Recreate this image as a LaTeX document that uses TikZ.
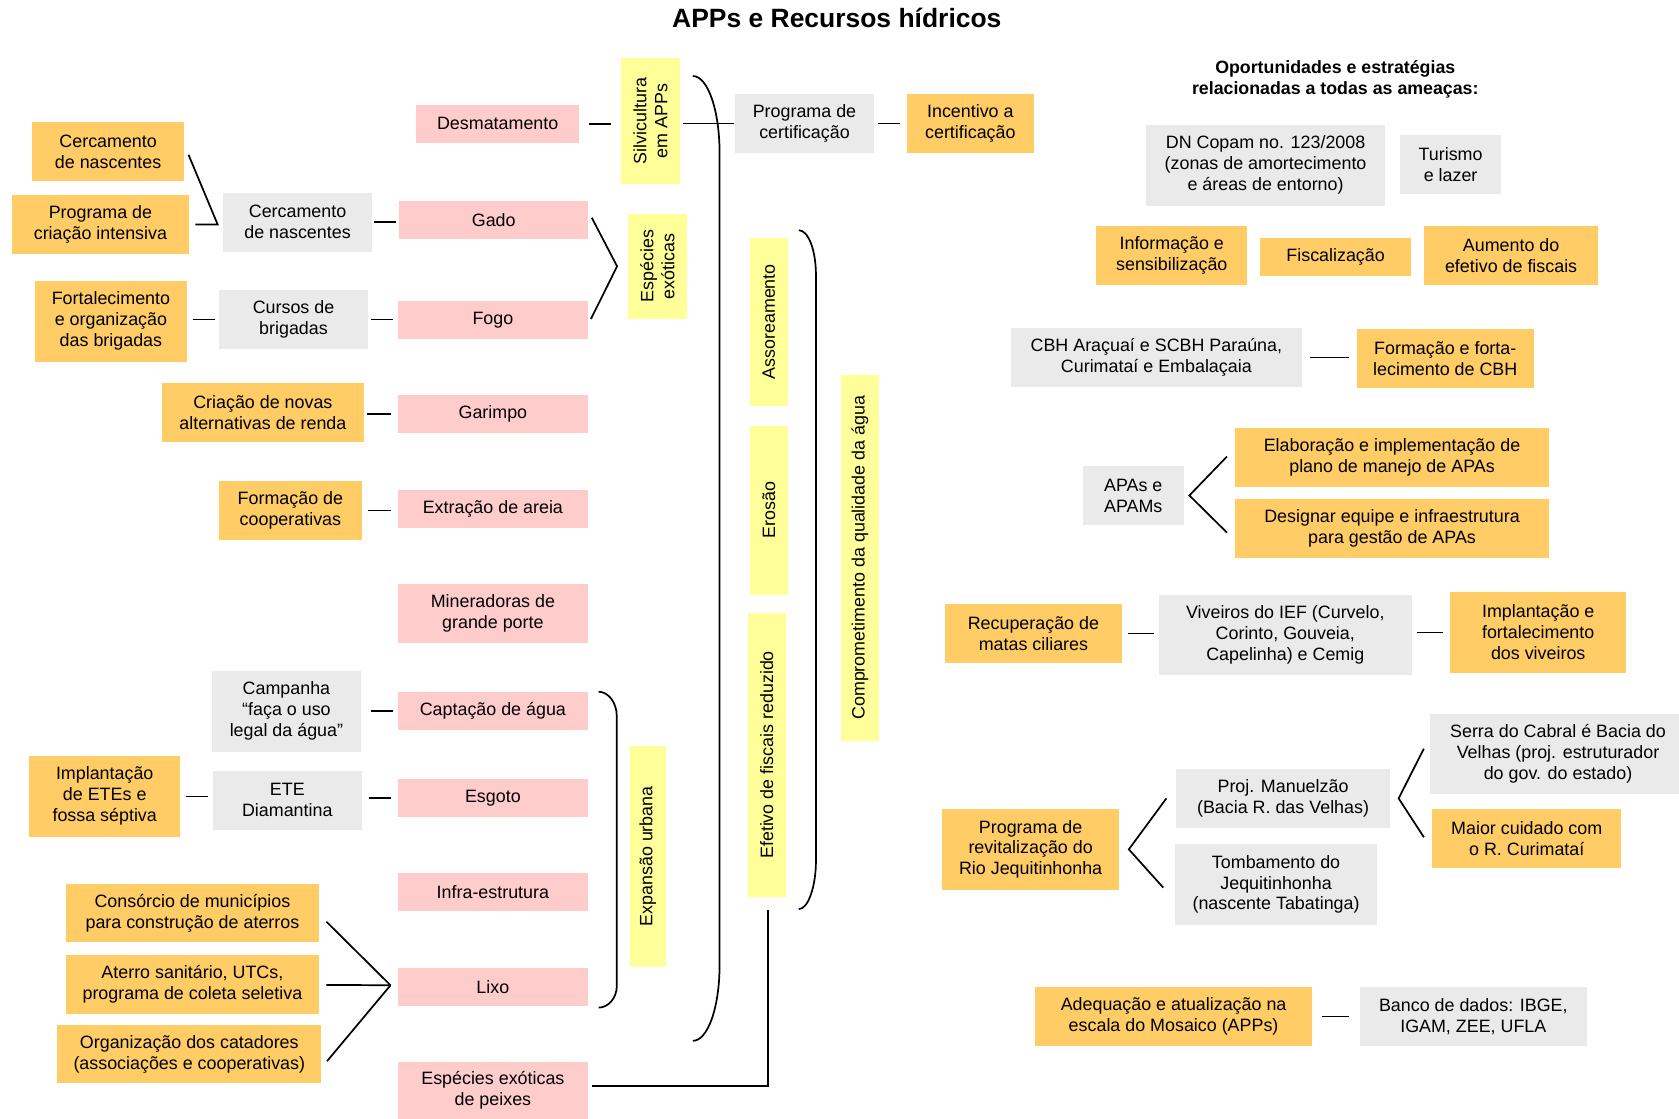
\documentclass[tikz,border=0pt]{standalone}
\usepackage{fontspec}
\setmainfont{Liberation Sans}
\usetikzlibrary{calc}

\definecolor{laranja}{HTML}{FFCC66}
\definecolor{rosa}{HTML}{FFCCCC}
\definecolor{cinza}{HTML}{EAEAEA}
\definecolor{amarelo}{HTML}{FFFF99}

\tikzset{
  caixa/.style={rectangle, inner sep=0pt, align=center, font=\fontsize{16.7}{19.6}\selectfont},
  ameaca/.style={caixa, fill=rosa, minimum width=176.8pt, minimum height=35pt},
  estrategia/.style={caixa, fill=laranja},
  acao/.style={caixa, fill=cinza},
  causa/.style={caixa, fill=amarelo, rotate=90},
  sz/.style 2 args={minimum width=#1pt, minimum height=#2pt},
  liga/.style 2 args={line width=1.6pt, shorten <=#1pt, shorten >=#2pt},
  linha/.style={line width=1.6pt},
}

\begin{document}
\begin{tikzpicture}[x=1pt, y=-1pt]
\useasboundingbox (0,0) rectangle (1568,1045);

% Títulos
\node[anchor=base, font=\bfseries\fontsize{24.7}{29}\selectfont] (titulo) at (781.5,26) {APPs e Recursos hídricos};
\node[align=center, font=\bfseries\fontsize{16.6}{19}\selectfont] (oport) at (1247,74) {Oportunidades e estratégias\\relacionadas a todas as ameaças:};

% Ameaças
\node[ameaca, sz={152.4}{35}] (desmat) at (464.8,115.7) {Desmatamento};
\node[ameaca] (gado) at (461.1,205.4) {Gado};
\node[ameaca] (fogo) at (460.3,298.8) {Fogo};
\node[ameaca] (garimpo) at (460.3,386.5) {Garimpo};
\node[ameaca] (areia) at (460.3,475.2) {Extração de areia};
\node[ameaca, minimum height=54.8pt] (mineradoras) at (460.3,572.8) {Mineradoras de\\grande porte};
\node[ameaca] (captacao) at (460.3,663.9) {Captação de água};
\node[ameaca] (esgoto) at (460.3,745.1) {Esgoto};
\node[ameaca] (infra) at (460.3,832.9) {Infra-estrutura};
\node[ameaca] (lixo) at (460.3,921.6) {Lixo};
\node[ameaca, minimum height=53pt] (peixes) at (460.3,1018.3) {Espécies exóticas\\de peixes};

% Causas (texto vertical)
\node[causa, sz={117.8}{55}] (silvic) at (607.5,112.9) {Silvicultura\\em APPs};
\node[causa, sz={97.5}{55}] (exoticas) at (614,248.7) {Espécies\\exóticas};
\node[causa, sz={206}{34.1}] (expansao) at (605,799.7) {Expansão urbana};
\node[causa, sz={157}{35.2}] (assor) at (718,300.5) {Assoreamento};
\node[causa, sz={157.5}{35.2}] (erosao) at (718,476.6) {Erosão};
\node[causa, sz={264.8}{35.2}] (efetivo) at (716.1,705) {Efetivo de fiscais reduzido};
\node[causa, sz={341.5}{35.2}] (qualidade) at (803,520.8) {Comprometimento da qualidade da água};

% Estratégias e ações à esquerda
\node[estrategia, sz={141.7}{55}] (cercaA) at (101,141.5) {Cercamento\\de nascentes};
\node[estrategia, sz={165}{54.5}] (criacao) at (93.8,209.6) {Programa de\\criação intensiva};
\node[estrategia, sz={142.2}{75.4}] (fortal) at (103.6,300.1) {Fortalecimento\\e organização\\das brigadas};
\node[acao, sz={138.9}{54.8}] (cercaB) at (277.9,207.6) {Cercamento\\de nascentes};
\node[acao, sz={138.8}{54.8}] (cursos) at (274.1,298.5) {Cursos de\\brigadas};
\node[estrategia, sz={188.5}{54.5}] (rendas) at (245.5,385.2) {Criação de novas\\alternativas de renda};
\node[estrategia, sz={133}{55}] (cooper) at (271.2,476.7) {Formação de\\cooperativas};
\node[acao, sz={138.9}{75.4}] (campanha) at (267.5,664.3) {Campanha\\“faça o uso\\legal da água”};
\node[estrategia, sz={141.3}{75.4}] (implETE) at (97.8,743.7) {Implantação\\de ETEs e\\fossa séptiva};
\node[acao, sz={138.8}{54.8}] (ete) at (268.3,747.4) {ETE\\Diamantina};
\node[estrategia, sz={236}{54.4}] (consorcio) at (179.7,852.8) {Consórcio de municípios\\para construção de aterros};
\node[estrategia, sz={236}{54.8}] (aterro) at (179.7,919.3) {Aterro sanitário, UTCs,\\programa de coleta seletiva};
\node[estrategia, sz={246.8}{54.5}] (catadores) at (176.8,984.5) {Organização dos catadores\\(associações e cooperativas)};

% Certificação
\node[acao, sz={129.8}{55}] (certif) at (751.3,115.3) {Programa de\\certificação};
\node[estrategia, sz={118.3}{55}] (incentivo) at (906.2,115.3) {Incentivo a\\certificação};

% Oportunidades e estratégias gerais
\node[acao, sz={223.8}{75.3}] (copam) at (1181.9,154.4) {DN Copam no. 123/2008\\(zonas de amortecimento\\e áreas de entorno)};
\node[acao, sz={94.3}{55}] (turismo) at (1354.7,153.5) {Turismo\\e lazer};
\node[estrategia, sz={141.4}{54.9}] (info) at (1094.3,238.5) {Informação e\\sensibilização};
\node[estrategia, sz={141.4}{35.7}] (fiscal) at (1247.3,239.9) {Fiscalização};
\node[estrategia, sz={162.6}{54.9}] (aumento) at (1411.2,238.5) {Aumento do\\efetivo de fiscais};
\node[acao, sz={271.8}{54.4}] (cbh) at (1079.9,333.8) {CBH Araçuaí e SCBH Paraúna,\\Curimataí e Embalaçaia};
\node[estrategia, sz={165}{54.5}] (fortcbh) at (1349.7,334.8) {Formação e forta-\\lecimento de CBH};
\node[acao, sz={94.5}{54.7}] (apas) at (1058.3,462.7) {APAs e\\APAMs};
\node[estrategia, sz={293.9}{54.5}] (elab) at (1300,427.3) {Elaboração e implementação de\\plano de manejo de APAs};
\node[estrategia, sz={293.9}{54.8}] (design) at (1300,493.4) {Designar equipe e infraestrutura\\para gestão de APAs};
\node[estrategia, sz={164.8}{54.9}] (matas) at (965.1,591.5) {Recuperação de\\matas ciliares};
\node[acao, sz={236.2}{75}] (viveiros) at (1200.3,593.2) {Viveiros do IEF (Curvelo,\\Corinto, Gouveia,\\Capelinha) e Cemig};
\node[estrategia, sz={164.6}{75.3}] (implviv) at (1436.5,590.6) {Implantação e\\fortalecimento\\dos viveiros};
\node[acao, sz={239}{74.7}] (serra) at (1455,704.2) {Serra do Cabral é Bacia do\\Velhas (proj. estruturador\\do gov. do estado)};
\node[acao, sz={199.5}{54.8}] (manuel) at (1198.2,745.6) {Proj. Manuelzão\\(Bacia R. das Velhas)};
\node[acao, sz={188.4}{75.3}] (tomb) at (1191.7,825.9) {Tombamento do\\Jequitinhonha\\(nascente Tabatinga)};
\node[estrategia, sz={165}{75.4}] (revit) at (962.5,793.2) {Programa de\\revitalização do\\Rio Jequitinhonha};
\node[estrategia, sz={176.7}{54.8}] (curim) at (1425.8,782.9) {Maior cuidado com\\o R. Curimataí};
\node[estrategia, sz={258.9}{54.7}] (adeq) at (1096,949.2) {Adequação e atualização na\\escala do Mosaico (APPs)};
\node[acao, sz={211.5}{54.7}] (banco) at (1375.9,949.2) {Banco de dados: IBGE,\\IGAM, ZEE, UFLA};

% Ligações curtas
\draw[liga={9}{9}] (desmat.east) -- (desmat.east -| silvic.north);
\draw[liga={3}{1}] (certif.west -| silvic.south) -- (certif.west);
\draw[liga={3.4}{6}] (certif.east) -- (incentivo.west);
\draw[liga={2}{2.5}] (cercaB.east) -- (cercaB.east -| gado.west);
\draw[liga={5}{3.7}] (cursos.west -| fortal.east) -- (cursos.west);
\draw[liga={2.5}{5}] (cursos.east) -- (cursos.east -| fogo.west);
\draw[liga={3.2}{7}] (garimpo.west -| rendas.east) -- (garimpo.west);
\draw[liga={5.3}{7}] (cooper.east) -- (cooper.east -| areia.west);
\draw[liga={9}{5}] (captacao.west -| campanha.east) -- (captacao.west);
\draw[liga={5}{4.2}] (implETE.east) -- (implETE.east -| ete.west);
\draw[liga={6.3}{6.4}] (esgoto.west -| ete.east) -- (esgoto.west);
\draw[liga={7.7}{7.4}] (cbh.east) -- (cbh.east -| fortcbh.west);
\draw[liga={5.5}{4.2}] (matas.east) -- (matas.east -| viveiros.west);
\draw[liga={5}{6.6}] (implviv.west -| viveiros.east) -- (implviv.west);
\draw[liga={9.4}{10.3}] (adeq.east) -- (banco.west);

% Ramificações
\coordinate (cerca-j) at ($(cercaB.west)+(-5,2)$);
\draw[linha] ($(cercaA.east)+(4,3)$) -- (cerca-j) -- ($(criacao.east)+(6,0)$);
\coordinate (exo-j) at ($(exoticas.north)+(-10,0)$);
\draw[linha] ($(gado.east)+(3,-2)$) -- (exo-j) -- ($(fogo.east)+(3,-1)$);
\coordinate (lixo-j) at ($(lixo.west)+(-7,-1.5)$);
\draw[linha] ($(consorcio.east)+(7,8)$) -- (lixo-j);
\draw[linha] ($(aterro.east)+(7,0.5)$) -- (lixo-j);
\draw[linha] ($(catadores.east)+(5,6.5)$) -- (lixo-j);
\draw[linha] ($(peixes.east)+(4,-4)$) -| ($(efetivo.west)+(1.4,12)$);
\coordinate (apas-j) at ($(apas.east)+(5,0)$);
\draw[linha] ($(elab.west)+(-7,-1)$) -- (apas-j) -- ($(design.west)+(-7,4)$);
\coordinate (revit-j) at ($(revit.east)+(9,0)$);
\draw[linha] ($(manuel.west)+(-9,0)$) -- (revit-j) -- ($(tomb.west)+(-11,3)$);
\coordinate (manuel-j) at ($(manuel.east)+(8,0)$);
\draw[linha] ($(serra.west)+(-5.6,-5)$) -- (manuel-j) -- ($(curim.west)+(-7.5,-1)$);

% Chaves
\draw[linha] (647,71) .. controls (661,71) and (672,103) .. (672,143) -- (672,901) .. controls (672,941) and (661,972) .. (647,972);
\draw[linha] (746,215) .. controls (755,215) and (762,234) .. (762,257) -- (762,804) .. controls (762,827) and (755,849) .. (746,849);
\draw[linha] (559,646) .. controls (568,646) and (576,656) .. (576,669) -- (576,921) .. controls (576,932) and (568,941) .. (559,941);

\end{tikzpicture}
\end{document}
